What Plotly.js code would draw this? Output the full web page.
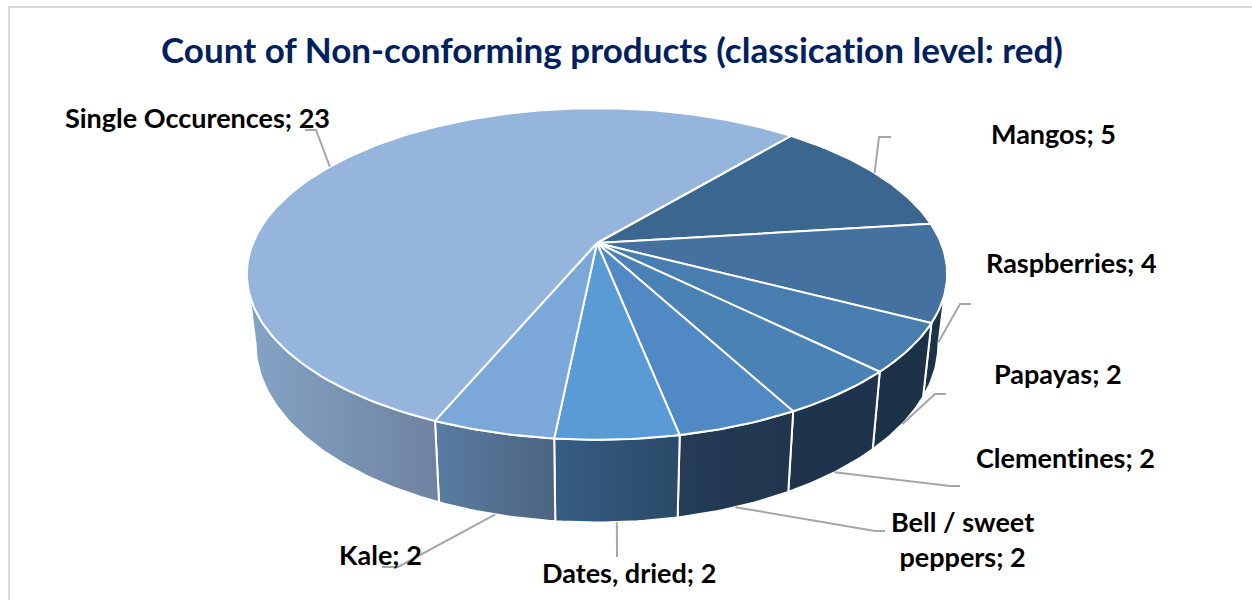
<!DOCTYPE html>
<html>
<head>
<meta charset="utf-8">
<script src="https://cdn.plot.ly/plotly-3.0.1.min.js"></script>
<style>html,body{margin:0;padding:0;background:#fff;overflow:hidden}
text{font-variant-ligatures:none;font-feature-settings:"liga" 0}</style>
</head>
<body>
<div id="chart" style="width:1252px;height:600px"></div>
<script>
// Data
const categories = ["Mangos","Raspberries","Papayas","Clementines","Bell / sweet peppers","Dates, dried","Kale","Single Occurences"];
const counts = [5,4,2,2,2,2,2,23];
const chartTitle = "Count of Non-conforming products (classication level: red)";

// Styles
const topColors = ["#3A668F","#44719F","#477DAF","#4A82B6","#5089C4","#5B9BD5","#7BA7D9","#95B5DC"];
const wallFrom  = ["#1C3249","#1C3249","#1C3249","#1E344C","#253C57","#375D85","#5A7CA2","#84A4C6"];
const wallTo    = ["#1C3249","#1C3249","#1C3249","#1E344C","#20354D","#2A4A68","#4C6480","#6F82A0"];
const labelText = ["Mangos; 5","Raspberries; 4","Papayas; 2","Clementines; 2","Bell / sweet<br>peppers; 2","Dates, dried; 2","Kale; 2","Single Occurences; 23"];
const labelX = [1053,1071,1058,1065,962,629,380,197];
const labelY = [133,262,373,457,539,572,554,117];
// leader-line elbows, after the rim anchor of each slice
const elbowX = [[879,891],[960,971],[935,946],[950,960],[875,885],[617],[398,382],[316,305]];
const elbowY = [[137,137],[304,304],[394,394],[486,486],[531,531],[557],[567,567],[130,130]];
const anchorOnTop = [true,false,false,false,false,false,false,true];

// 3D projection of a pie disc (perspective)
const firstAngle = 40.1, k = 0.1867;
const topPlane = {x0:597, y0:243, a:344, b:160};
const botPlane = {x0:597, y0:311, a:335.4, b:172};
function proj(p, deg){
  const t = deg*Math.PI/180, u = Math.sin(t), v = -Math.cos(t), w = 1-k*v;
  return [p.x0 + p.a*u/w, p.y0 + p.b*v/w];
}
function arc(p, d0, d1){
  const n = Math.max(2, Math.ceil(Math.abs(d1-d0))), pts = [];
  for(let i=0;i<=n;i++) pts.push(proj(p, d0+(d1-d0)*i/n));
  return pts;
}
const total = counts.reduce((a,b)=>a+b,0);

let start = firstAngle;
const spans = counts.map(c=>{const s=[start,start+c*360/total]; start=s[1]; return s;});

const walls = [], tops = [], leaders = [];
spans.forEach((s,i)=>{
  const a = Math.max(s[0],90+Math.asin(k)*180/Math.PI), b = Math.min(s[1],270-Math.asin(k)*180/Math.PI);
  if(b>a){
    const pts = arc(topPlane,a,b).concat(arc(botPlane,b,a));
    pts.push(pts[0]);
    walls.push({type:"scatter",mode:"lines",name:categories[i],x:pts.map(p=>p[0]),y:pts.map(p=>p[1]),
      fill:"toself",line:{color:"#FFFFFF",width:2},hoverinfo:"skip",
      fillgradient:{type:"horizontal",colorscale:[[0,wallFrom[i]],[1,wallTo[i]]]}});
  }
  const pts = [[topPlane.x0,topPlane.y0]].concat(arc(topPlane,s[0],s[1]));
  pts.push(pts[0]);
  tops.push({type:"scatter",mode:"lines",name:categories[i],x:pts.map(p=>p[0]),y:pts.map(p=>p[1]),
    fill:"toself",fillcolor:topColors[i],line:{color:"#FFFFFF",width:2},
    text:categories[i]+": "+counts[i],hoverinfo:"text"});
  const m = proj(anchorOnTop[i]?topPlane:botPlane,(s[0]+s[1])/2);
  leaders.push({type:"scatter",mode:"lines",x:[m[0]].concat(elbowX[i]),y:[m[1]].concat(elbowY[i]),
    line:{color:"#A6A6A6",width:2},hoverinfo:"skip"});
});

const font = "Lato, 'Open Sans', sans-serif";
const annotations = labelText.map((t,i)=>({text:"<b>"+t+"</b>",x:labelX[i],y:labelY[i],xref:"x",yref:"y",
  showarrow:false,xanchor:"center",yanchor:"middle",align:"center",font:{family:font,size:27,color:"#000000"}}));

const layout = {
  width:1252,height:600,margin:{l:0,r:0,t:0,b:0},showlegend:false,
  paper_bgcolor:"#FFFFFF",plot_bgcolor:"#FFFFFF",
  title:{text:"<b>"+chartTitle+"</b>",x:612/1252,xanchor:"center",y:1-51/600,yanchor:"middle",xref:"paper",yref:"paper",
    font:{family:font,size:35,color:"#002060"}},
  xaxis:{range:[0,1252],visible:false,fixedrange:true},
  yaxis:{range:[600,0],visible:false,fixedrange:true},
  shapes:[{type:"path",xref:"x",yref:"y",path:"M9,600 L9,7 L1252,7",line:{color:"#D9D9D9",width:2},layer:"below"}],
  annotations:annotations
};
Plotly.newPlot("chart",walls.concat(tops,leaders),layout,{displayModeBar:false});
</script>
</body>
</html>
